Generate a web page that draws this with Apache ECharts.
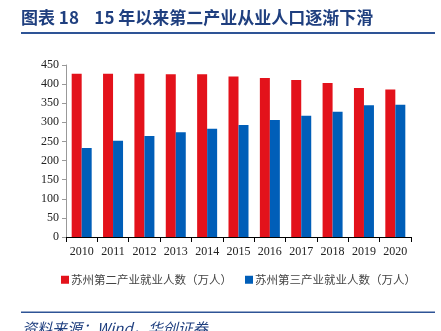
<!DOCTYPE html>
<html>
<head>
<meta charset="utf-8">
<script src="https://cdn.jsdelivr.net/npm/echarts@6/dist/echarts.min.js"></script>
<style>
html,body{margin:0;padding:0;background:#fff;}
#chart{width:441px;height:331px;}
</style>
</head>
<body>
<div id="chart"></div>
<script>
var years = ['2010','2011','2012','2013','2014','2015','2016','2017','2018','2019','2020'];
var secondary = [427, 427, 427, 426, 426, 420, 416, 411, 403, 390, 386];
var tertiary = [233, 252, 264, 274, 283, 293, 306, 317, 328, 345, 346];
var yTicks = { min: 0, max: 450, interval: 50 };
var seriesNames = ['苏州第二产业就业人数（万人）', '苏州第三产业就业人数（万人）'];
var titleText = '图表 18    15 年以来第二产业从业人口逐渐下滑';
var sourceText = '资料来源：Wind，华创证券';

var chart = echarts.init(document.getElementById('chart'), null, {renderer: 'canvas'});
var serif = '"Liberation Serif","DejaVu Serif",serif';
var cjk = '"Noto Sans CJK SC","Noto Sans",sans-serif';
chart.setOption({
  animation: false,
  backgroundColor: '#ffffff',
  grid: { left: 66, right: 30, top: 65, bottom: 94, containLabel: false },
  graphic: [
    { type: 'text', left: 21, top: 9, style: { text: titleText, font: 'bold 17px ' + cjk, fill: '#1F3F7F' } },
    { type: 'rect', shape: { x: 21, y: 32, width: 414, height: 2 }, style: { fill: '#2E5496' } },
    { type: 'rect', shape: { x: 21, y: 311.5, width: 414, height: 1.5 }, style: { fill: '#2E5496' } },
    { type: 'text', left: 22, top: 321, style: { text: sourceText, font: 'italic 15px ' + cjk, fill: '#1F3F7F' } }
  ],
  legend: {
    data: seriesNames,
    left: 56, top: 269,
    itemWidth: 8, itemHeight: 8, itemGap: 13,
    icon: 'rect',
    textStyle: { fontFamily: cjk, fontSize: 11.5, color: '#444444', padding: [0,0,0,-3] }
  },
  xAxis: {
    type: 'category',
    data: years,
    axisLine: { lineStyle: { color: '#000000', width: 1 } },
    axisTick: { show: true, alignWithLabel: false, length: 5, lineStyle: { color: '#000000' } },
    axisLabel: { fontFamily: serif, fontSize: 12, color: '#222222', margin: 9 },
    splitLine: { show: false }
  },
  yAxis: {
    type: 'value',
    min: yTicks.min, max: yTicks.max, interval: yTicks.interval,
    axisLine: { show: true, lineStyle: { color: '#999999', width: 1 } },
    axisTick: { show: true, length: 4, lineStyle: { color: '#999999' } },
    axisLabel: { fontFamily: serif, fontSize: 12, color: '#222222', margin: 7 },
    splitLine: { show: false }
  },
  series: [
    { name: seriesNames[0], type: 'bar', data: secondary, barWidth: 10, barGap: '0%',
      itemStyle: { color: '#E3121B' } },
    { name: seriesNames[1], type: 'bar', data: tertiary, barWidth: 10, barGap: '0%',
      itemStyle: { color: '#005EB8' } }
  ]
});
</script>
</body>
</html>
